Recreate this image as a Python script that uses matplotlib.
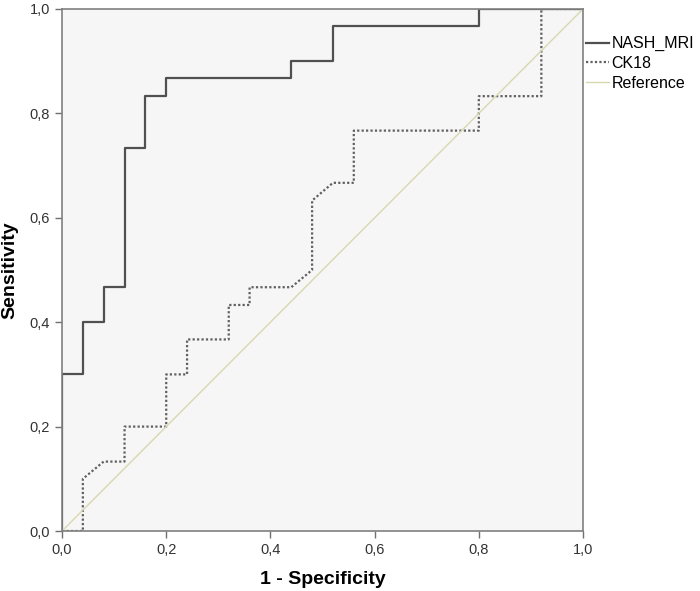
import matplotlib.pyplot as plt
from matplotlib.ticker import FuncFormatter

# ROC data (1 - specificity, sensitivity)
nash_fpr = [0.0, 0.0, 0.04, 0.04, 0.08, 0.08, 0.12, 0.12, 0.16, 0.16, 0.20, 0.20,
            0.44, 0.44, 0.52, 0.52, 0.80, 0.80, 1.0]
nash_tpr = [0.0, 0.30, 0.30, 0.40, 0.40, 0.467, 0.467, 0.733, 0.733, 0.833, 0.833, 0.867,
            0.867, 0.90, 0.90, 0.967, 0.967, 1.0, 1.0]

ck18_fpr = [0.0, 0.04, 0.04, 0.08, 0.12, 0.12, 0.20, 0.20, 0.24, 0.24, 0.32, 0.32,
            0.36, 0.36, 0.44, 0.48, 0.48, 0.52, 0.56, 0.56, 0.80, 0.80, 0.92, 0.92, 1.0]
ck18_tpr = [0.0, 0.0, 0.10, 0.133, 0.133, 0.20, 0.20, 0.30, 0.30, 0.367, 0.367, 0.433,
            0.433, 0.467, 0.467, 0.50, 0.633, 0.667, 0.667, 0.767, 0.767, 0.833, 0.833, 1.0, 1.0]

ref_x = [0.0, 1.0]
ref_y = [0.0, 1.0]

ticks = [0.0, 0.2, 0.4, 0.6, 0.8, 1.0]

plt.rcParams['font.family'] = ['Liberation Sans', 'DejaVu Sans']

fig = plt.figure(figsize=(7, 5.91), dpi=100)
ax = fig.add_axes([0.0886, 0.1015, 0.7443, 0.8833])
ax.set_facecolor('#f6f6f6')

ax.plot(nash_fpr, nash_tpr, color='#505050', linewidth=1.6, label='NASH_MRI')
ax.plot(ck18_fpr, ck18_tpr, color='#606060', linewidth=1.6, linestyle=(0, (1, 1)), label='CK18')
ax.plot(ref_x, ref_y, color='#d8d8b0', linewidth=1.0, label='Reference')

ax.set_xlim(0, 1)
ax.set_ylim(0, 1)
ax.set_xticks(ticks)
ax.set_yticks(ticks)
fmt = FuncFormatter(lambda v, p: f"{v:.1f}".replace('.', ','))
ax.xaxis.set_major_formatter(fmt)
ax.yaxis.set_major_formatter(fmt)
ax.tick_params(direction='out', length=5, width=1, color='#707070', labelsize=10.5, labelcolor='#333333')

for s in ax.spines.values():
    s.set_color('#808080')
    s.set_linewidth(1.2)

ax.set_xlabel('1 - Specificity', fontsize=14, fontweight='bold', labelpad=10)
ax.set_ylabel('Sensitivity', fontsize=14, fontweight='bold', labelpad=8)

ax.legend(loc='upper left', bbox_to_anchor=(1.006, 0.948), frameon=False, fontsize=11.5,
          handlelength=1.4, handletextpad=0.2, borderaxespad=0.0, labelspacing=0.3,
          borderpad=0.0)

fig.savefig('out.png', dpi=100)
